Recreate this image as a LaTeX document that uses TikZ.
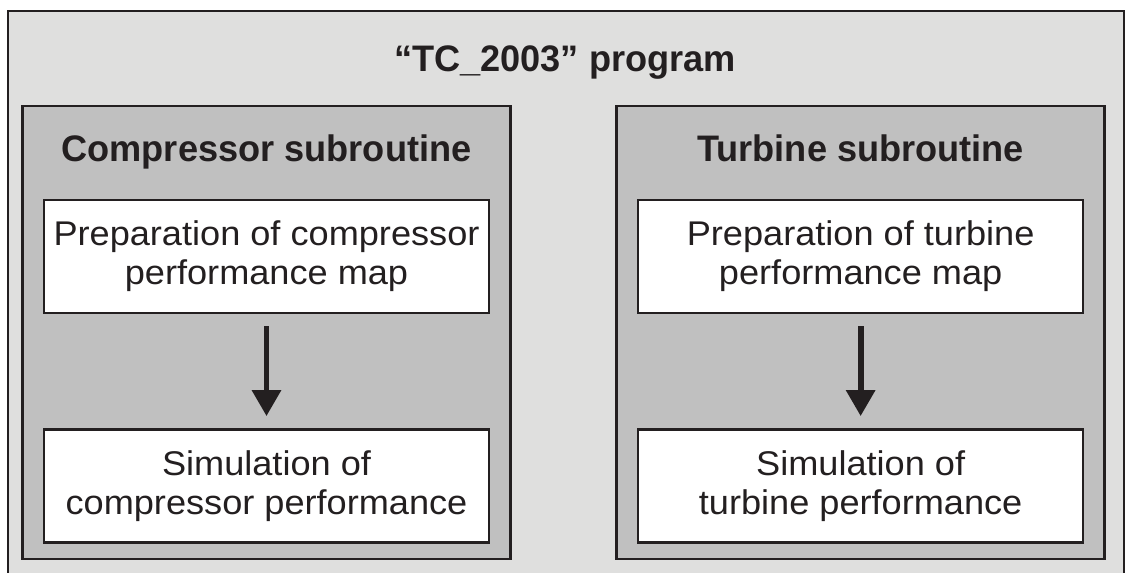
\documentclass[tikz,border=0pt]{standalone}
\usepackage{fontspec}
\setmainfont{Liberation Sans}[FakeStretch=0.98]
\newfontfamily\stepfont{Liberation Sans}[FakeStretch=1.055]
\usetikzlibrary{arrows.meta,positioning}
\definecolor{cProg}{HTML}{DFDFDE}
\definecolor{cSub}{HTML}{C0C0C0}
\definecolor{cInk}{HTML}{231F20}
\tikzset{
  frame/.style   = {draw=cInk, inner sep=0pt},
  prog/.style    = {frame, fill=cProg, line width=1.2pt,
                    minimum width=22.32cm, minimum height=11.34cm},
  sub/.style     = {frame, fill=cSub, line width=1.5pt,
                    minimum width=9.76cm, minimum height=9.06cm},
  stepbox/.style = {frame, fill=white, line width=1.4pt, text=cInk,
                    minimum width=8.9cm, minimum height=2.26cm, align=center,
                    font=\stepfont\fontsize{19.5}{22}\selectfont},
  head/.style    = {inner sep=0pt, text=cInk,
                    font=\bfseries\fontsize{21}{25}\selectfont},
  flow/.style    = {-{Triangle[length=5.2mm,width=5.6mm]}, line width=3.4pt,
                    draw=cInk, shorten <=2.4mm, shorten >=2.4mm},
}

\begin{document}
\begin{tikzpicture}
  \path[use as bounding box, clip] (0,0) rectangle (22.68,-11.46);
  \node[prog] (prog) at (11.32,-5.89) {};
  \node[head, anchor=base] (title) at (11.30,-1.44) {“TC\_2003” program};
  % compressor side
  \node[sub] (comp) at (5.33,-6.65) {};
  \node[head, anchor=base, yshift=-1.14cm] (chead) at (comp.north)
    {Compressor subroutine};
  \node[stepbox, below=1.88cm of comp.north] (cprep)
    {Preparation of compressor\\ performance map};
  \node[stepbox, below=2.28cm of cprep] (csim)
    {Simulation of\\ compressor performance};
  % turbine side
  \node[sub, right=2.07cm of comp] (turb) {};
  \node[head, anchor=base, yshift=-1.14cm] (thead) at (turb.north)
    {Turbine subroutine};
  \node[stepbox, below=1.88cm of turb.north] (tprep)
    {Preparation of turbine\\ performance map};
  \node[stepbox, below=2.28cm of tprep] (tsim)
    {Simulation of\\ turbine performance};
  \draw[flow] (cprep) -- (csim);
  \draw[flow] (tprep) -- (tsim);
\end{tikzpicture}
\end{document}
